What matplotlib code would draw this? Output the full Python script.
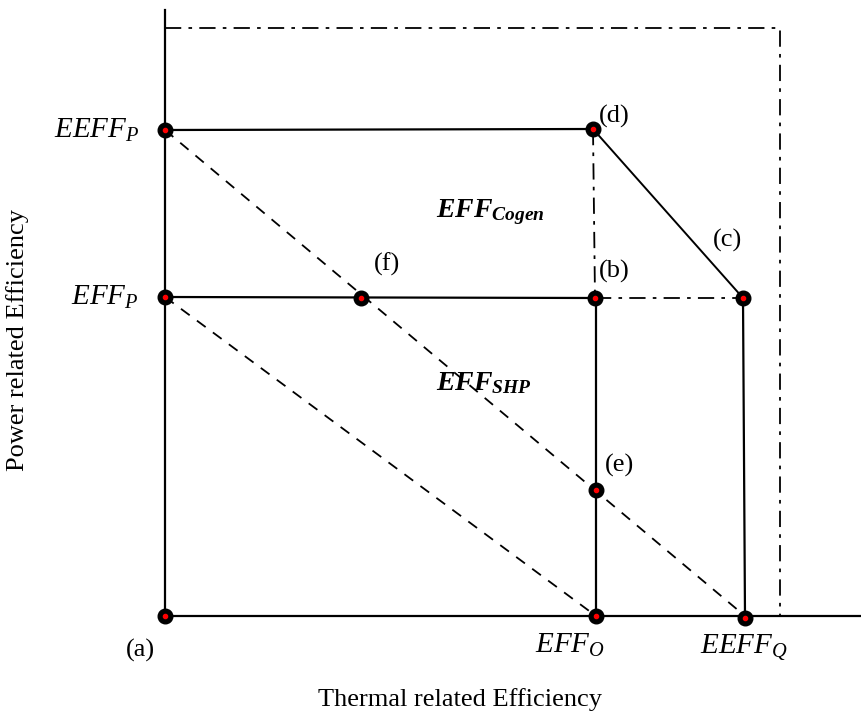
import matplotlib.pyplot as plt

plt.rcParams['font.family'] = ['Liberation Serif', 'DejaVu Serif']
plt.rcParams['mathtext.fontset'] = 'custom'
plt.rcParams['mathtext.rm'] = 'Liberation Serif'
plt.rcParams['mathtext.it'] = 'Liberation Serif:italic'
plt.rcParams['mathtext.bf'] = 'Liberation Serif:bold'
plt.rcParams['mathtext.bfit'] = 'Liberation Serif:bold:italic'

# efficiency levels (arbitrary units)
eff_o = 0.431     # EFF_O, thermal
eeff_q = 0.580    # EEFF_Q, thermal
eff_p = 0.319     # EFF_P, power
eeff_p = 0.486    # EEFF_P, power

# marked points (x = thermal, y = power)
pt_names = ['a', 'EEFF_P', 'EFF_P', 'd', 'f', 'b', 'c', 'e', 'EFF_O', 'EEFF_Q']
pt_x = [0.0, 0.0, 0.0, 0.428, 0.196, 0.430, 0.578, 0.431, 0.431, 0.580]
pt_y = [0.0, 0.486, 0.319, 0.487, 0.318, 0.318, 0.318, 0.126, 0.0, -0.002]

# outer dash-dot boundary
bound_x = 0.615
bound_y = 0.588

fig = plt.figure(figsize=(8.61, 7.17), dpi=100)
ax = fig.add_axes([0, 0, 1, 1])
ax.set_xlim(-0.165, 0.696)
ax.set_ylim(-0.101, 0.616)
ax.axis('off')

k = dict(color='black')
# axes lines
ax.plot([0, 0], [0, 0.606], lw=1.6, **k)
ax.plot([0, 0.696], [0, 0], lw=1.6, **k)

# solid lines
ax.plot([0, pt_x[3]], [eeff_p, pt_y[3]], lw=1.6, **k)
ax.plot([pt_x[3], pt_x[6]], [pt_y[3], pt_y[6]], lw=1.4, **k)
ax.plot([0, pt_x[5]], [eff_p, pt_y[5]], lw=1.6, **k)
ax.plot([eff_o, eff_o], [pt_y[5], 0], lw=1.6, **k)
ax.plot([pt_x[6], eeff_q], [pt_y[6], 0], lw=1.6, **k)

# dash-dot lines
dd = dict(lw=1.3, dashes=(9, 4, 2, 4), color='black')
ax.plot([pt_x[3], pt_x[5]], [pt_y[3], pt_y[5]], **dd)
ax.plot([pt_x[5], pt_x[6]], [pt_y[5], pt_y[6]], **dd)
ax.plot([0, bound_x, bound_x], [bound_y, bound_y, 0], **dd)

# dashed iso-efficiency lines
ds = dict(lw=1.3, dashes=(6, 5), color='black')
ax.plot([0, eeff_q], [eeff_p, 0], **ds)
ax.plot([0, eff_o], [eff_p, 0], **ds)

# points
ax.plot(pt_x, pt_y, 'o', ms=10.5, mfc='black', mec='black', ls='none', zorder=5)
ax.plot(pt_x, pt_y, 'o', ms=3, mfc='red', mec='red', ls='none', zorder=6)

fs = 19
fl = 21
ax.text(-0.026, eeff_p, r'$EEFF_P$', ha='right', va='center', fontsize=fl)
ax.text(-0.026, eff_p, r'$EFF_P$', ha='right', va='center', fontsize=fl)
ax.text(-0.025, -0.034, '(a)', ha='center', va='center', fontsize=fs)
ax.text(0.405, -0.016, r'$EFF_O$', ha='center', va='top', fontsize=fl)
ax.text(0.579, -0.016, r'$EEFF_Q$', ha='center', va='top', fontsize=fl)
ax.text(0.449, 0.500, '(d)', ha='center', va='center', fontsize=fs)
ax.text(0.563, 0.376, '(c)', ha='center', va='center', fontsize=fs)
ax.text(0.449, 0.345, '(b)', ha='center', va='center', fontsize=fs)
ax.text(0.222, 0.352, '(f)', ha='center', va='center', fontsize=fs)
ax.text(0.455, 0.151, '(e)', ha='center', va='center', fontsize=fs)
ax.text(0.325, 0.404, r'$\mathbfit{EFF}_{\mathbfit{Cogen}}$', ha='center', va='center', fontsize=20)
ax.text(0.319, 0.233, r'$\mathbfit{EFF}_{\mathbfit{SHP}}$', ha='center', va='center', fontsize=20)

ax.text(0.295, -0.084, 'Thermal related Efficiency', ha='center', va='center', fontsize=fs)
ax.text(-0.147, 0.276, 'Power related Efficiency', ha='center', va='center',
        rotation=90, fontsize=fs)

fig.savefig('out.png', dpi=100)
